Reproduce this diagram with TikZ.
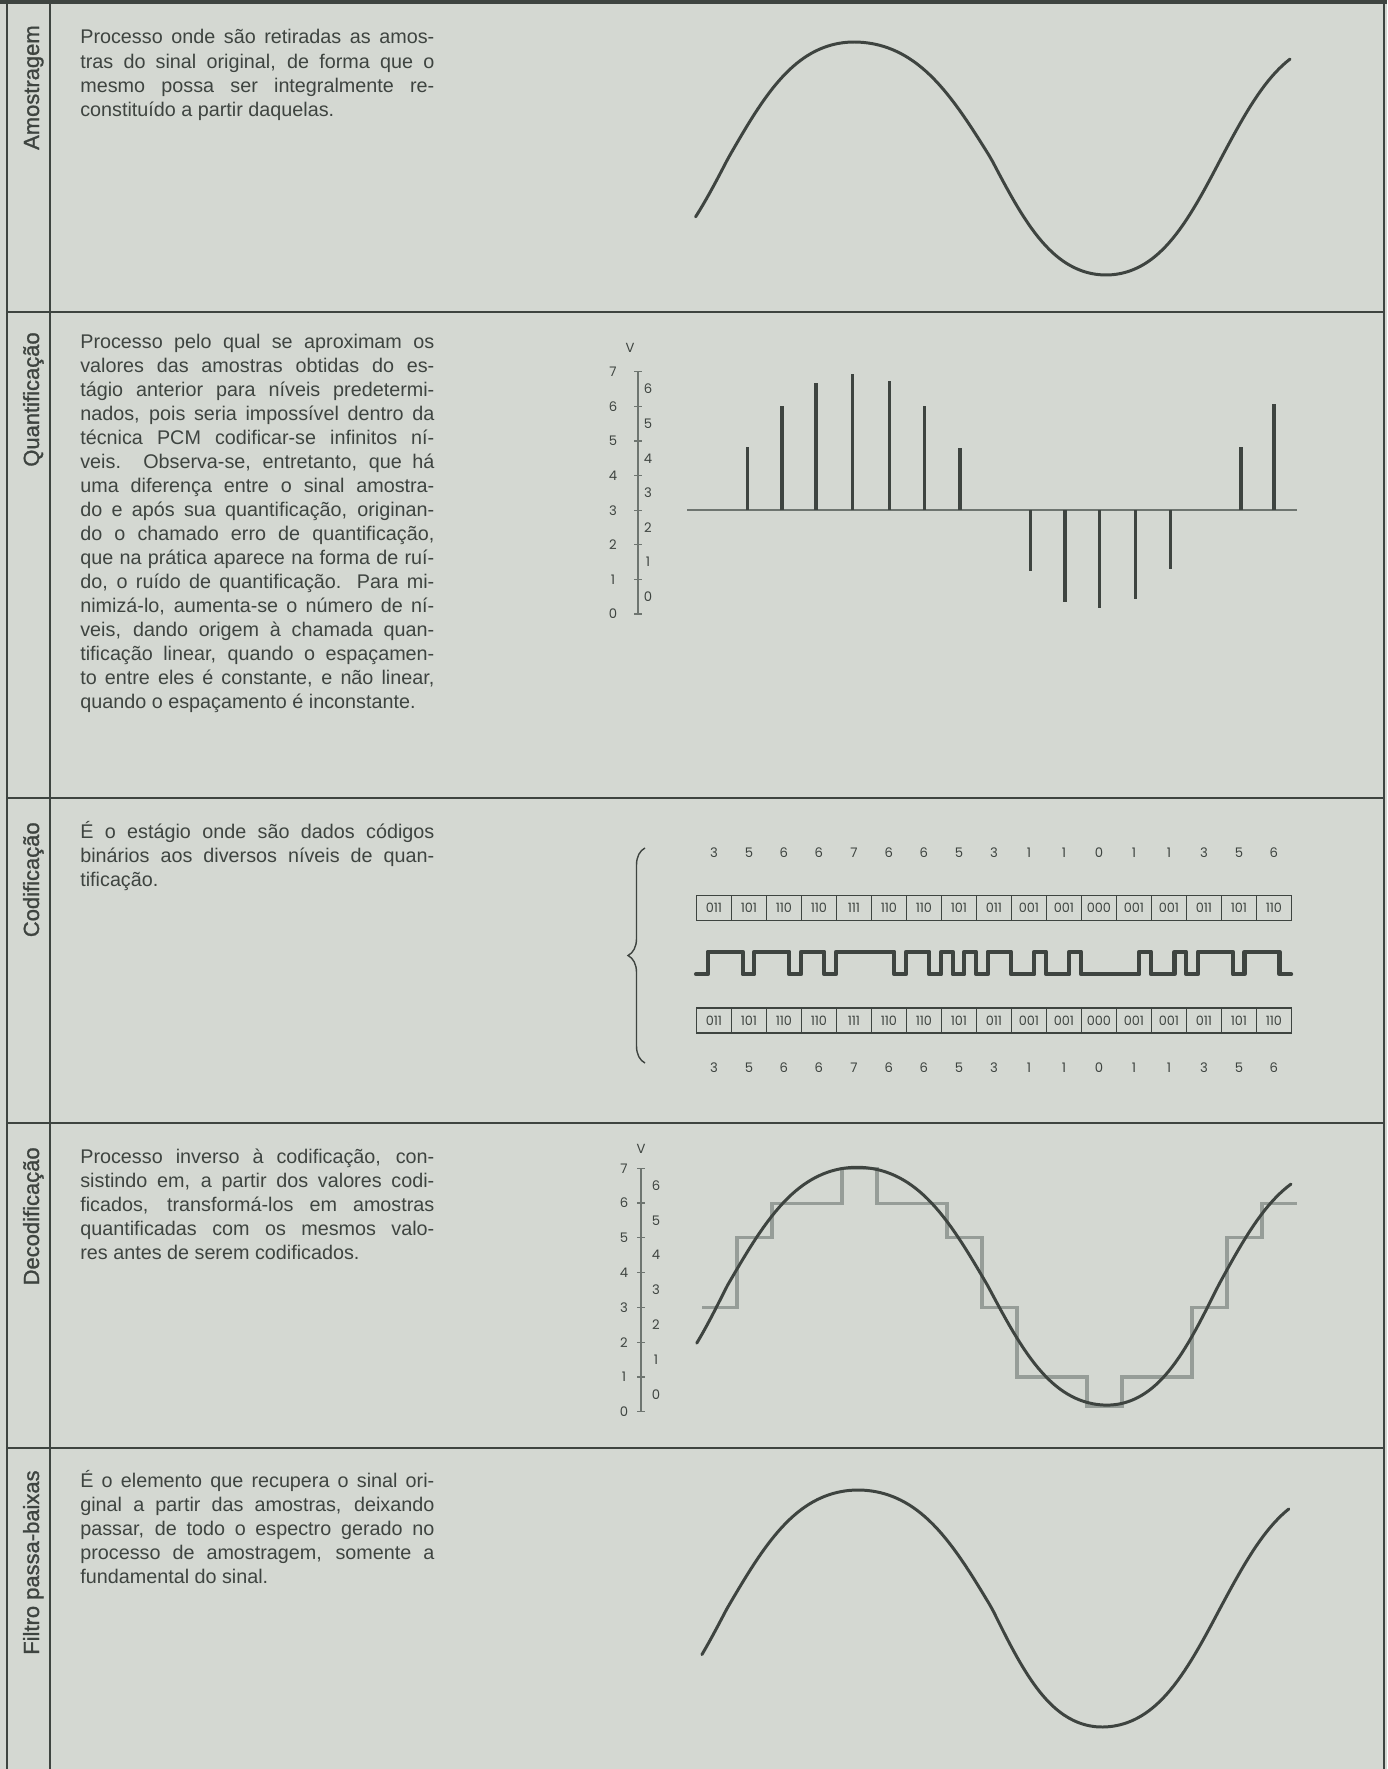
\documentclass[tikz,border=0pt]{standalone}
\usepackage{fontspec}
\setmainfont{Liberation Sans}
\newfontfamily\titlefont[FakeBold=1.2]{Liberation Sans}
\newfontfamily\digitfont{Poppins}
\usepackage{tikz}
\usetikzlibrary{decorations.pathreplacing}

\definecolor{paper}{RGB}{212,216,210}
\definecolor{ink}{RGB}{62,68,64}
\definecolor{stepgray}{RGB}{150,157,152}
\definecolor{axisgray}{RGB}{110,117,112}

% hand drawn sine: phase #1 in degrees, slightly broad at the crests
\pgfmathdeclarefunction{wav}{1}{\pgfmathparse{sin(#1+5.73*sin(2*(#1)))}}
% x of phase #1, from the x of the phases -90,0,90,180,270,360,450 (#2..#8)
\pgfmathdeclarefunction{knotx}{8}{%
  \pgfmathparse{(#1)<0 ? #3+(#3-#2)/90*(#1) :
    ((#1)<90 ? #3+(#4-#3)/90*(#1) :
    ((#1)<180 ? #4+(#5-#4)/90*((#1)-90) :
    ((#1)<270 ? #5+(#6-#5)/90*((#1)-180) :
    ((#1)<360 ? #6+(#7-#6)/90*((#1)-270) : #7+(#8-#7)/90*((#1)-360)))))}}

\begin{document}
\begin{tikzpicture}[x=0.2mm, y=-0.2mm,
    rule/.style={draw=ink, line width=1.4pt},
    rowtitle/.style={rotate=90, anchor=base east, inner sep=0pt, text=ink,
      font=\titlefont\fontsize{12.5pt}{15pt}\selectfont},
    rowtext/.style={anchor=base west, inner sep=0pt, text width=7.08cm,
      align=justify, text=ink, font=\fontsize{11.25pt}{13.66pt}\selectfont},
    wave/.style={draw=ink, line width=1.7pt, line cap=round, line join=round},
    ruler/.style={draw=axisgray, line width=0.7pt},
    digits/.style={inner sep=0pt, text=ink, font=\digitfont\fontsize{7.5pt}{9pt}\selectfont},
    qbar/.style={draw=ink, line width=1.8pt},
    codebox/.style={draw=ink, line width=0.9pt, minimum width=7mm, minimum height=5mm,
      inner sep=0pt, text=ink, font=\digitfont\fontsize{7.3pt}{8pt}\selectfont},
    pulse/.style={draw=ink, line width=2.3pt, line join=round, line cap=round},
    stair/.style={draw=stepgray, line width=1.8pt}]

  % Paper
  \fill[paper] (0,0) rectangle (1387,1769);
  \useasboundingbox (0,0) rectangle (1387,1769);

  % Frame and row rules
  \draw[ink, line width=2.8pt] (0,1.5) -- (1387,1.5);
  \draw[rule] (7,0) -- (7,1769);
  \draw[rule] (50,0) -- (50,1769);
  \draw[rule] (1384,0) -- (1384,1769);
  \foreach \y in {312,798,1123,1448}
    \draw[rule] (7,\y) -- (1384,\y);

  % Row titles
  \node[rowtitle] (t1) at (39,25) {Amostragem};
  \node[rowtitle] (t2) at (39,332) {Quantificação};
  \node[rowtitle] (t3) at (39,822) {Codificação};
  \node[rowtitle] (t4) at (39,1147) {Decodificação};
  \node[rowtitle] (t5) at (39,1470) {Filtro passa-baixas};

  % Row texts
  \node[rowtext] (d1) at (80,44) {Processo onde são retiradas as amos-\linebreak
    tras do sinal original, de forma que o\linebreak
    mesmo possa ser integralmente re-\linebreak
    constituído a partir daquelas.};
  \node[rowtext] (d2) at (80,348) {Processo pelo qual se aproximam os\linebreak
    valores das amostras obtidas do es-\linebreak
    tágio anterior para níveis predetermi-\linebreak
    nados, pois seria impossível dentro da\linebreak
    técnica PCM codificar-se infinitos ní-\linebreak
    veis. Observa-se, entretanto, que há\linebreak
    uma diferença entre o sinal amostra-\linebreak
    do e após sua quantificação, originan-\linebreak
    do o chamado erro de quantificação,\linebreak
    que na prática aparece na forma de ruí-\linebreak
    do, o ruído de quantificação. Para mi-\linebreak
    nimizá-lo, aumenta-se o número de ní-\linebreak
    veis, dando origem à chamada quan-\linebreak
    tificação linear, quando o espaçamen-\linebreak
    to entre eles é constante, e não linear,\linebreak
    quando o espaçamento é inconstante.};
  \node[rowtext] (d3) at (80,838) {É o estágio onde são dados códigos\linebreak
    binários aos diversos níveis de quan-\linebreak
    tificação.};
  \node[rowtext] (d4) at (80,1163) {Processo inverso à codificação, con-\linebreak
    sistindo em, a partir dos valores codi-\linebreak
    ficados, transformá-los em amostras\linebreak
    quantificadas com os mesmos valo-\linebreak
    res antes de serem codificados.};
  \node[rowtext] (d5) at (80,1487) {É o elemento que recupera o sinal ori-\linebreak
    ginal a partir das amostras, deixando\linebreak
    passar, de todo o espectro gerado no\linebreak
    processo de amostragem, somente a\linebreak
    fundamental do sinal.};

  % Amostragem: original signal
  \draw[wave] plot[domain=-25.6:413.1, samples=160]
    ({knotx(\x,614,728,854,991,1106,1221,1338)}, {158.5-116.5*wav(\x)});

  % Quantificacao: level scale and samples (y in levels)
  \begin{scope}[shift={(0,614)}, yscale=-34.6]
    \draw[ruler] (638,0) -- (638,7);
    \foreach \l in {0,...,7} {
      \draw[ruler] (634,\l) -- (642,\l);
      \node[digits] (ql\l) at (613,\l) {\l};
    }
    \foreach \l in {0,...,6}
      \node[digits] (qr\l) at (648,\l+0.5) {\l};
    \node[digits] (qv) at (630,7.68) {V};
    \draw[draw=axisgray, line width=1.1pt] (687,3) -- (1297,3);
    \foreach \x/\lev in {747.6/4.84, 782/6.0, 816/6.67, 852.3/6.95, 889.6/6.74,
        924.5/6.0, 960/4.8, 1030.2/1.23, 1065/0.36, 1099.5/0.17, 1135.4/0.43,
        1170.8/1.3, 1241/4.84, 1274/6.06}
      \draw[qbar] (\x,3) -- (\x,\lev);
  \end{scope}

  % Codificacao: brace, code words and line signal
  \draw[draw=ink, line width=0.8pt, decorate, decoration={brace, amplitude=3.4mm}]
    (645,1063) -- (645,848);
  \foreach \lev/\word [count=\i from 0] in {3/011, 5/101, 6/110, 6/110, 7/111,
      6/110, 6/110, 5/101, 3/011, 1/001, 1/001, 0/000, 1/001, 1/001, 3/011,
      5/101, 6/110} {
    \node[digits] (nt\i) at ({713.9+35*\i},853) {\lev};
    \node[codebox] (ct\i) at ({713.9+35*\i},908) {\word};
    \node[codebox] (cb\i) at ({713.9+35*\i},1020.5) {\word};
    \node[digits] (nb\i) at ({713.9+35*\i},1068) {\lev};
  }
  \draw[pulse] (696,974.3) \foreach \b [count=\i from 0] in {0,1,1, 1,0,1, 1,1,0,
      1,1,0, 1,1,1, 1,1,0, 1,1,0, 1,0,1, 0,1,1, 0,0,1, 0,0,1, 0,0,0, 0,0,1,
      0,0,1, 0,1,1, 1,0,1, 1,1,0} {
    -- ({696+11.67*\i},{974.3-22.6*\b}) -- ({696+11.67*(\i+1)},{974.3-22.6*\b})
  };

  % Decodificacao: level scale, decoded steps and signal (y in levels)
  \begin{scope}[shift={(0,1411.7)}, yscale=-34.77]
    \draw[ruler] (641,0) -- (641,7);
    \foreach \l in {0,...,7} {
      \draw[ruler] (637,\l) -- (645,\l);
      \node[digits] (dl\l) at (624,\l) {\l};
    }
    \foreach \l in {0,...,6}
      \node[digits] (dr\l) at (656,\l+0.5) {\l};
    \node[digits] (dv) at (641,7.55) {V};
    \draw[stair] (702,3) -| (737,5) -| (772,6) -| (842,7) -| (877,6) -| (947,5)
      -| (982,3) -| (1017,1) -| (1087,0.15) -| (1122,1) -| (1192,3) -| (1227,5)
      -| (1262,6) -- (1297,6);
    \draw[wave] plot[domain=-24.3:413.7, samples=160]
      ({knotx(\x,615,727,857,988,1107,1218,1340.3)}, {3.61+3.42*wav(\x)});
  \end{scope}

  % Filtro passa-baixas: recovered signal
  \draw[wave] plot[domain=-19.3:411.6, samples=160]
    ({knotx(\x,610,727,858,992,1102,1220,1340)}, {1608.5-118.5*wav(\x)});
\end{tikzpicture}
\end{document}
